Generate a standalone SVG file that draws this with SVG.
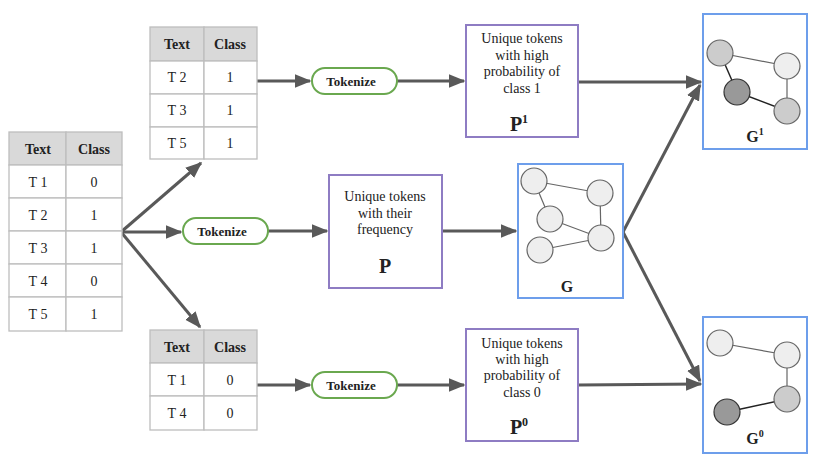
<svg xmlns="http://www.w3.org/2000/svg" width="830" height="467" viewBox="0 0 830 467" font-family="'Liberation Serif', 'Times New Roman', Times, serif">
<style>
  text { font-family: "Liberation Serif", "Times New Roman", Times, serif; fill: #222222; }
  .cell { fill: #ffffff; stroke: #bdbdbd; stroke-width: 1.3; }
  .hdr { fill: #d9d9d9; stroke: #bdbdbd; stroke-width: 1.3; }
  .th { font-size: 14px; font-weight: bold; text-anchor: middle; }
  .td { font-size: 14px; text-anchor: middle; }
  .pill { fill: #ffffff; stroke: #6aa84f; stroke-width: 2; }
  .pt { font-size: 13px; font-weight: bold; text-anchor: middle; }
  .pbox { fill: #ffffff; stroke: #8e7cc3; stroke-width: 2; }
  .gbox { fill: #ffffff; stroke: #6d9eeb; stroke-width: 2; }
  .bt { font-size: 14px; text-anchor: middle; }
  .big { font-size: 20px; font-weight: bold; text-anchor: middle; }
  .sup { font-size: 12px; font-weight: bold; }
  .arr { stroke: #595959; stroke-width: 3; fill: none; marker-end: url(#ah); }
  .n1 { fill: #eeeeee; stroke: #666; stroke-width: 1.2; }
  .n2 { fill: #cccccc; stroke: #666; stroke-width: 1.2; }
  .n3 { fill: #999999; stroke: #333; stroke-width: 1.2; }
  .eg { stroke: #666; stroke-width: 1.2; }
  .ek { stroke: #222; stroke-width: 1.5; }
</style>
<defs>
  <marker id="ah" markerWidth="6" markerHeight="5" refX="5" refY="2.25" orient="auto" markerUnits="strokeWidth">
    <path d="M0,0 L5.5,2.25 L0,4.5 z" fill="#595959"/>
  </marker>
</defs>

<g id="connectors">
  <line class="arr" x1="121" y1="232" x2="201" y2="163"/>
  <line class="arr" x1="121" y1="232" x2="181" y2="232"/>
  <line class="arr" x1="121" y1="232" x2="200" y2="327"/>
  <line class="arr" x1="257" y1="81" x2="310" y2="81"/>
  <line class="arr" x1="397" y1="81" x2="464" y2="81"/>
  <line class="arr" x1="268" y1="231" x2="327" y2="231"/>
  <line class="arr" x1="442" y1="231" x2="516" y2="231"/>
  <line class="arr" x1="257" y1="385" x2="310" y2="385"/>
  <line class="arr" x1="397" y1="385" x2="464" y2="385"/>
  <line class="arr" x1="578" y1="82" x2="701" y2="82"/>
  <line class="arr" x1="623" y1="232" x2="700" y2="85"/>
  <line class="arr" x1="623" y1="232" x2="700" y2="381"/>
  <line class="arr" x1="578" y1="385" x2="701" y2="384"/>
</g>

<g id="table-all">
  <rect class="hdr" x="9" y="132" width="57" height="33"/>
  <rect class="hdr" x="66" y="132" width="56" height="33"/>
  <rect class="cell" x="9" y="165" width="57" height="33"/><rect class="cell" x="66" y="165" width="56" height="33"/>
  <rect class="cell" x="9" y="198" width="57" height="33"/><rect class="cell" x="66" y="198" width="56" height="33"/>
  <rect class="cell" x="9" y="231" width="57" height="33"/><rect class="cell" x="66" y="231" width="56" height="33"/>
  <rect class="cell" x="9" y="264" width="57" height="33"/><rect class="cell" x="66" y="264" width="56" height="33"/>
  <rect class="cell" x="9" y="297" width="57" height="34"/><rect class="cell" x="66" y="297" width="56" height="34"/>
  <text class="th" x="38" y="154">Text</text><text class="th" x="94" y="154">Class</text>
  <text class="td" x="38" y="187">T 1</text><text class="td" x="94" y="187">0</text>
  <text class="td" x="38" y="220">T 2</text><text class="td" x="94" y="220">1</text>
  <text class="td" x="38" y="253">T 3</text><text class="td" x="94" y="253">1</text>
  <text class="td" x="38" y="286">T 4</text><text class="td" x="94" y="286">0</text>
  <text class="td" x="38" y="319">T 5</text><text class="td" x="94" y="319">1</text>
</g>

<g id="table-class1">
  <rect class="hdr" x="150" y="27" width="54" height="34"/>
  <rect class="hdr" x="204" y="27" width="53" height="34"/>
  <rect class="cell" x="150" y="61" width="54" height="33"/><rect class="cell" x="204" y="61" width="53" height="33"/>
  <rect class="cell" x="150" y="94" width="54" height="33"/><rect class="cell" x="204" y="94" width="53" height="33"/>
  <rect class="cell" x="150" y="127" width="54" height="32"/><rect class="cell" x="204" y="127" width="53" height="32"/>
  <text class="th" x="177" y="49">Text</text><text class="th" x="230" y="49">Class</text>
  <text class="td" x="177" y="82">T 2</text><text class="td" x="230" y="82">1</text>
  <text class="td" x="177" y="115">T 3</text><text class="td" x="230" y="115">1</text>
  <text class="td" x="177" y="148">T 5</text><text class="td" x="230" y="148">1</text>
</g>

<g id="table-class0">
  <rect class="hdr" x="150" y="330" width="54" height="33"/>
  <rect class="hdr" x="204" y="330" width="53" height="33"/>
  <rect class="cell" x="150" y="363" width="54" height="33"/><rect class="cell" x="204" y="363" width="53" height="33"/>
  <rect class="cell" x="150" y="396" width="54" height="34"/><rect class="cell" x="204" y="396" width="53" height="34"/>
  <text class="th" x="177" y="352">Text</text><text class="th" x="230" y="352">Class</text>
  <text class="td" x="177" y="385">T 1</text><text class="td" x="230" y="385">0</text>
  <text class="td" x="177" y="418">T 4</text><text class="td" x="230" y="418">0</text>
</g>

<g id="tokenize-1">
  <rect class="pill" x="312" y="68" width="85" height="26" rx="13"/>
  <text class="pt" x="351" y="86">Tokenize</text>
</g>
<g id="tokenize-all">
  <rect class="pill" x="183" y="218" width="85" height="26" rx="13"/>
  <text class="pt" x="222" y="236">Tokenize</text>
</g>
<g id="tokenize-0">
  <rect class="pill" x="312" y="372" width="85" height="26" rx="13"/>
  <text class="pt" x="351" y="390">Tokenize</text>
</g>

<g id="P1">
  <rect class="pbox" x="466" y="25" width="112" height="112"/>
  <text class="bt" x="522" y="43">Unique tokens</text>
  <text class="bt" x="522" y="60">with high</text>
  <text class="bt" x="522" y="76">probability of</text>
  <text class="bt" x="522" y="93">class 1</text>
  <text class="big" x="519" y="131">P<tspan class="sup" dy="-8">1</tspan></text>
</g>
<g id="P">
  <rect class="pbox" x="329" y="175" width="113" height="113"/>
  <text class="bt" x="385" y="201">Unique tokens</text>
  <text class="bt" x="385" y="218">with their</text>
  <text class="bt" x="385" y="234">frequency</text>
  <text class="big" x="385" y="273">P</text>
</g>
<g id="P0">
  <rect class="pbox" x="466" y="329" width="112" height="112"/>
  <text class="bt" x="522" y="348">Unique tokens</text>
  <text class="bt" x="522" y="364">with high</text>
  <text class="bt" x="522" y="380">probability of</text>
  <text class="bt" x="522" y="397">class 0</text>
  <text class="big" x="519" y="434">P<tspan class="sup" dy="-8">0</tspan></text>
</g>

<g id="G">
  <rect class="gbox" x="518" y="164" width="105" height="134"/>
  <line class="eg" x1="534" y1="181" x2="600" y2="193"/>
  <line class="eg" x1="534" y1="181" x2="550" y2="219"/>
  <line class="eg" x1="600" y1="193" x2="601" y2="238"/>
  <line class="eg" x1="550" y1="219" x2="601" y2="238"/>
  <line class="eg" x1="540" y1="250" x2="601" y2="238"/>
  <circle class="n1" cx="534" cy="181" r="13"/>
  <circle class="n1" cx="600" cy="193" r="13"/>
  <circle class="n1" cx="550" cy="219" r="13"/>
  <circle class="n1" cx="601" cy="238" r="13"/>
  <circle class="n1" cx="540" cy="250" r="13"/>
  <text class="big" x="567" y="292" style="font-size:16px">G</text>
</g>

<g id="G1">
  <rect class="gbox" x="703" y="14" width="104" height="135"/>
  <line class="eg" x1="720" y1="53" x2="787" y2="66"/>
  <line class="ek" x1="720" y1="53" x2="737" y2="92"/>
  <line class="eg" x1="787" y1="66" x2="787" y2="111"/>
  <line class="ek" x1="737" y1="92" x2="787" y2="111"/>
  <circle class="n2" cx="720" cy="53" r="13"/>
  <circle class="n1" cx="787" cy="66" r="13"/>
  <circle class="n3" cx="737" cy="92" r="13"/>
  <circle class="n2" cx="787" cy="111" r="13"/>
  <text class="big" x="755" y="142" style="font-size:16px">G<tspan class="sup" dy="-7" style="font-size:10px">1</tspan></text>
</g>

<g id="G0">
  <rect class="gbox" x="703" y="317" width="104" height="136"/>
  <line class="eg" x1="720" y1="343" x2="787" y2="355"/>
  <line class="eg" x1="787" y1="355" x2="787" y2="399"/>
  <line class="ek" x1="727" y1="412" x2="787" y2="399"/>
  <circle class="n1" cx="720" cy="343" r="13"/>
  <circle class="n1" cx="787" cy="355" r="13"/>
  <circle class="n2" cx="787" cy="399" r="13"/>
  <circle class="n3" cx="727" cy="412" r="13"/>
  <text class="big" x="755" y="444" style="font-size:16px">G<tspan class="sup" dy="-7" style="font-size:10px">0</tspan></text>
</g>
</svg>
